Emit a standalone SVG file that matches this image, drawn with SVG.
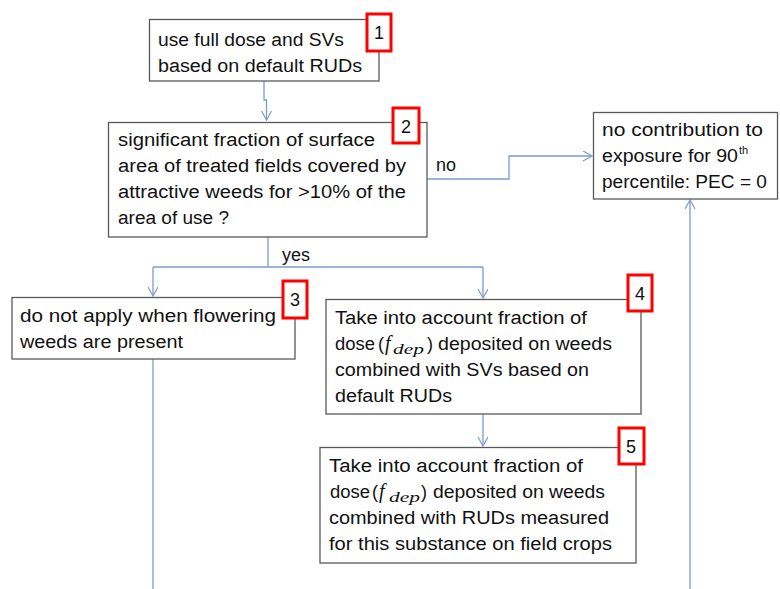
<svg xmlns="http://www.w3.org/2000/svg" width="780" height="589" viewBox="0 0 780 589">
<defs>
<style>
.box{fill:#fff;stroke:#595959;stroke-width:1.3}
.badge{fill:#fff;stroke:#ff0000;stroke-width:3}
.t{font-family:"Liberation Sans",Arial,sans-serif;font-size:18px;fill:#111}
.num{font-family:"Liberation Sans",Arial,sans-serif;font-size:18px;fill:#111;text-anchor:middle}
.f{font-family:"Liberation Serif","Times New Roman",serif;font-style:italic;fill:#111}
.c{fill:none;stroke:#7a9ccf;stroke-width:1.3}
</style>
<marker id="ah" markerWidth="12" markerHeight="12" refX="10" refY="5" orient="auto" markerUnits="userSpaceOnUse">
<path d="M1,0 L10,5 L1,10" fill="none" stroke="#7a9ccf" stroke-width="1.2"/>
</marker>
</defs>
<rect width="780" height="589" fill="#fff"/>
<g id="connectors">
<path class="c" d="M264,81 V100 H266.5 V120" marker-end="url(#ah)"/>
<path class="c" d="M427,179 H509 V156 H592" marker-end="url(#ah)"/>
<path class="c" d="M268,237 V267"/>
<path class="c" d="M153,267 H483"/>
<path class="c" d="M153,267 V296" marker-end="url(#ah)"/>
<path class="c" d="M483,267 V298" marker-end="url(#ah)"/>
<path class="c" d="M483,414 V446" marker-end="url(#ah)"/>
<path class="c" d="M153,359 V589"/>
<path class="c" d="M690,589 V200" marker-end="url(#ah)"/>
<text class="t" x="436" y="171">no</text>
<text class="t" x="282" y="261">yes</text>
</g>
<g id="node1">
<rect class="box" x="149.5" y="19.5" width="229.5" height="61.5"/>
<text class="t" x="158" y="46" textLength="186" lengthAdjust="spacingAndGlyphs">use full dose and SVs</text>
<text class="t" x="158" y="72" textLength="204" lengthAdjust="spacingAndGlyphs">based on default RUDs</text>
<rect class="badge" x="367" y="14" width="24" height="37"/>
<text class="num" x="379" y="39">1</text>
</g>
<g id="node2">
<rect class="box" x="108.5" y="122.5" width="318.5" height="114.5"/>
<text class="t" x="118" y="146" textLength="257" lengthAdjust="spacingAndGlyphs">significant fraction of surface</text>
<text class="t" x="118" y="172" textLength="288" lengthAdjust="spacingAndGlyphs">area of treated fields covered by</text>
<text class="t" x="118" y="198" textLength="288" lengthAdjust="spacingAndGlyphs">attractive weeds for &gt;10% of the</text>
<text class="t" x="118" y="224" textLength="111" lengthAdjust="spacingAndGlyphs">area of use ?</text>
<rect class="badge" x="393" y="108" width="26" height="35"/>
<text class="num" x="406" y="133">2</text>
</g>
<g id="node_no">
<rect class="box" x="593.5" y="112.5" width="184" height="86.5"/>
<text class="t" x="602" y="136" textLength="161" lengthAdjust="spacingAndGlyphs">no contribution to</text>
<text class="t" x="602" y="162" textLength="136" lengthAdjust="spacingAndGlyphs">exposure for 90</text>
<text class="t" x="739" y="154" style="font-size:11px">th</text>
<text class="t" x="602" y="188" textLength="165" lengthAdjust="spacingAndGlyphs">percentile: PEC = 0</text>
</g>
<g id="node3">
<rect class="box" x="12" y="297.5" width="283" height="61.5"/>
<text class="t" x="20" y="322" textLength="256" lengthAdjust="spacingAndGlyphs">do not apply when flowering</text>
<text class="t" x="20" y="348" textLength="163" lengthAdjust="spacingAndGlyphs">weeds are present</text>
<rect class="badge" x="283" y="281" width="24" height="37"/>
<text class="num" x="295" y="306">3</text>
</g>
<g id="node4">
<rect class="box" x="326" y="299.5" width="315" height="114.5"/>
<text class="t" x="335" y="324" textLength="252" lengthAdjust="spacingAndGlyphs">Take into account fraction of</text>
<text class="t" x="335" y="350" textLength="40" lengthAdjust="spacingAndGlyphs">dose</text>
<text class="t" x="378" y="350">(</text>
<text class="f" x="385" y="350" style="font-size:20px">f</text>
<text class="f" x="393" y="354" style="font-size:14px" textLength="31" lengthAdjust="spacingAndGlyphs">dep</text>
<text class="t" x="427" y="350">)</text>
<text class="t" x="438" y="350" textLength="174" lengthAdjust="spacingAndGlyphs">deposited on weeds</text>
<text class="t" x="335" y="376" textLength="254" lengthAdjust="spacingAndGlyphs">combined with SVs based on</text>
<text class="t" x="335" y="402" textLength="117" lengthAdjust="spacingAndGlyphs">default RUDs</text>
<rect class="badge" x="628" y="275" width="24" height="36"/>
<text class="num" x="640" y="300">4</text>
</g>
<g id="node5">
<rect class="box" x="320" y="447.5" width="316" height="115.5"/>
<text class="t" x="329" y="472" textLength="254" lengthAdjust="spacingAndGlyphs">Take into account fraction of</text>
<text class="t" x="330" y="498" textLength="40" lengthAdjust="spacingAndGlyphs">dose</text>
<text class="t" x="372" y="498">(</text>
<text class="f" x="379" y="498" style="font-size:20px">f</text>
<text class="f" x="389" y="502" style="font-size:14px" textLength="31" lengthAdjust="spacingAndGlyphs">dep</text>
<text class="t" x="421" y="498">)</text>
<text class="t" x="433" y="498" textLength="172" lengthAdjust="spacingAndGlyphs">deposited on weeds</text>
<text class="t" x="329" y="524" textLength="280" lengthAdjust="spacingAndGlyphs">combined with RUDs measured</text>
<text class="t" x="329" y="550" textLength="283" lengthAdjust="spacingAndGlyphs">for this substance on field crops</text>
<rect class="badge" x="619" y="428" width="25" height="36"/>
<text class="num" x="631" y="453">5</text>
</g>
</svg>
